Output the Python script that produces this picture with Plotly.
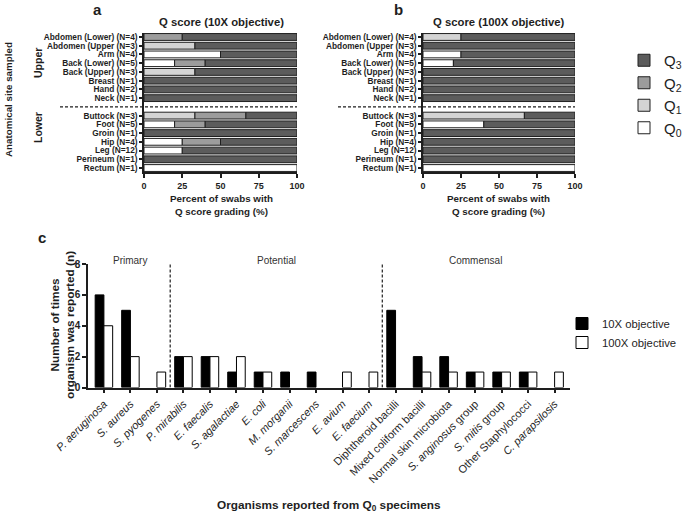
import plotly.graph_objects as go
from itertools import accumulate

# ---------------- data ----------------
upper_sites = ["Abdomen (Lower) (N=4)", "Abdomen (Upper (N=3)", "Arm (N=4)", "Back (Lower) (N=5)",
               "Back (Upper) (N=3)", "Breast (N=1)", "Hand (N=2)", "Neck (N=1)"]
lower_sites = ["Buttock (N=3)", "Foot (N=5)", "Groin (N=1)", "Hip (N=4)", "Leg (N=12)",
               "Perineum (N=1)", "Rectum (N=1)"]

# percent of swabs per Q score, 10X objective (rows: upper sites then lower sites)
q0_10x = [0, 0, 50, 20, 0, 0, 0, 0, 0, 20, 0, 25, 25, 0, 100]
q1_10x = [0, 33.3, 0, 0, 33.3, 0, 0, 0, 33.3, 0, 0, 0, 0, 0, 0]
q2_10x = [25, 0, 0, 20, 0, 0, 0, 0, 33.3, 20, 0, 25, 0, 0, 0]
q3_10x = [75, 66.7, 50, 60, 66.7, 100, 100, 100, 33.4, 60, 100, 50, 75, 100, 0]

# percent of swabs per Q score, 100X objective
q0_100x = [0, 0, 25, 20, 0, 0, 0, 0, 0, 40, 0, 0, 0, 0, 100]
q1_100x = [25, 0, 0, 0, 0, 0, 0, 0, 66.7, 0, 0, 0, 0, 0, 0]
q2_100x = [0, 0, 0, 0, 0, 0, 0, 0, 0, 0, 0, 0, 0, 0, 0]
q3_100x = [75, 100, 75, 80, 100, 100, 100, 100, 33.3, 60, 100, 100, 100, 100, 0]

q_names = ["Q<sub>0</sub>", "Q<sub>1</sub>", "Q<sub>2</sub>", "Q<sub>3</sub>"]
q_colors = ["#ffffff", "#d4d4d4", "#9c9c9c", "#5c5c5c"]
pct_ticks = [0, 25, 50, 75, 100]

organisms = ["<i>P. aeruginosa</i>", "<i>S. aureus</i>", "<i>S. pyogenes</i>",
             "<i>P. mirabilis</i>", "<i>E. faecalis</i>", "<i>S. agalactiae</i>", "<i>E. coli</i>",
             "<i>M. morganii</i>", "<i>S. marcescens</i>", "<i>E. avium</i>", "<i>E. faecium</i>",
             "Diphtheroid bacilli", "Mixed coliform bacilli", "Normal skin microbiota",
             "<i>S. anginosus</i> group", "<i>S. mitis</i> group", "Other Staphylococci",
             "<i>C. parapsilosis</i>"]
count_10x = [6, 5, 0, 2, 2, 1, 1, 1, 1, 0, 0, 5, 2, 2, 1, 1, 1, 0]
count_100x = [4, 2, 1, 2, 2, 2, 1, 0, 0, 1, 1, 0, 1, 1, 1, 1, 1, 1]
groups = ["Primary", "Potential", "Commensal"]
group_sizes = [3, 8, 7]
count_ticks = [0, 2, 4, 6, 8]

# ---------------- derived positions ----------------
sites = upper_sites + lower_sites
row_pos = list(range(len(upper_sites))) + [len(upper_sites) + 1 + i for i in range(len(lower_sites))]
sep_row = len(upper_sites)
org_x = list(range(len(organisms)))
bounds = list(accumulate(group_sizes))
sep_x = [b - 0.5 for b in bounds[:-1]]
group_centers = [b - s / 2 - 0.5 for b, s in zip(bounds, group_sizes)]

FONT = "Liberation Sans, Arial, sans-serif"
INK = "#1e1e1e"

W, H = 685, 515


def px(x):
    return x / W


def py(y):
    return 1 - y / H


def nz(vals):
    return [v if v > 0 else None for v in vals]


fig = go.Figure()


def stacked(series, xa, ya, legend):
    base = [0] * len(series[0])
    for k, vals in enumerate(series):
        fig.add_trace(go.Bar(
            y=row_pos, x=nz(vals), base=base,
            orientation="h", width=0.78,
            marker=dict(color=q_colors[k], line=dict(color="#202020", width=1)),
            name=q_names[k], xaxis=xa, yaxis=ya, showlegend=legend,
            legendrank=10 - k, hoverinfo="skip"))
        base = [b + v for b, v in zip(base, vals)]


stacked([q0_10x, q1_10x, q2_10x, q3_10x], "x", "y", True)
stacked([q0_100x, q1_100x, q2_100x, q3_100x], "x2", "y2", False)

fig.add_trace(go.Bar(x=org_x, y=nz(count_10x), offset=-0.33, width=0.33, name="10X objective",
                     marker=dict(color="#000000", line=dict(color="#000000", width=1)),
                     xaxis="x3", yaxis="y3", legend="legend2", hoverinfo="skip"))
fig.add_trace(go.Bar(x=org_x, y=nz(count_100x), offset=0, width=0.33, name="100X objective",
                     marker=dict(color="#ffffff", line=dict(color="#000000", width=1)),
                     xaxis="x3", yaxis="y3", legend="legend2", hoverinfo="skip"))

line_kw = dict(showline=True, linecolor=INK, linewidth=1.5, ticks="outside", tickcolor=INK,
               tickwidth=1.5, showgrid=False, zeroline=False)

ydom_ab = [py(172.4), py(32.6)]
for xa, ya, dom in [("xaxis", "yaxis", [px(144), px(297)]),
                    ("xaxis2", "yaxis2", [px(423), px(575)])]:
    anchor_x = "y" if xa == "xaxis" else "y2"
    anchor_y = "x" if ya == "yaxis" else "x2"
    fig.update_layout(**{
        xa: dict(domain=dom, anchor=anchor_x, range=[0, 100], tickvals=pct_ticks, ticklen=4,
                 tickfont=dict(family=FONT, size=9, color=INK, weight="bold"), **line_kw),
        ya: dict(domain=ydom_ab, anchor=anchor_y, range=[len(sites) + 0.5, -0.5],
                 tickvals=row_pos, ticktext=sites, ticklen=3,
                 tickfont=dict(family=FONT, size=8.3, color=INK, weight="bold"), **line_kw),
    })

fig.update_layout(
    xaxis3=dict(domain=[px(88), px(570)], anchor="y3", range=[-0.6, len(organisms) - 0.42],
                tickvals=org_x, ticktext=organisms, tickangle=-45, ticklen=4,
                tickfont=dict(family=FONT, size=11, color="#262626"), **line_kw),
    yaxis3=dict(domain=[py(387.5), py(264)], anchor="x3", range=[0, 8],
                tickvals=count_ticks, ticklen=4,
                tickfont=dict(family=FONT, size=10, color=INK, weight="bold"), **line_kw),
)

shapes = [
    dict(type="line", xref="paper", yref="y", x0=px(60), x1=px(297), y0=sep_row, y1=sep_row,
         line=dict(color=INK, width=1.3, dash="3px,2px")),
    dict(type="line", xref="paper", yref="y2", x0=px(338), x1=px(575), y0=sep_row,
         y1=sep_row, line=dict(color=INK, width=1.3, dash="3px,2px")),
]
for sx in sep_x:
    shapes.append(dict(type="line", xref="x3", yref="y3", x0=sx, x1=sx, y0=0, y1=8,
                       line=dict(color=INK, width=1.2, dash="3px,2px")))

ann = []


def A(text, x, y, size, bold=True, angle=0, xref="paper", color=INK):
    ann.append(dict(text=text, x=x if xref != "paper" else px(x), y=py(y), xref=xref,
                    yref="paper", showarrow=False, textangle=angle, xanchor="center",
                    yanchor="middle",
                    font=dict(family=FONT, size=size, color=color,
                              weight="bold" if bold else "normal")))


A("a", 98, 10, 15)
A("b", 398, 10, 15)
A("c", 42, 237, 15)
A("Q score (10X objective)", 221, 22, 11.3)
A("Q score (100X objective)", 499, 22, 11.3)
A("Percent of swabs with<br>Q score grading (%)", 221, 204.5, 9.8)
A("Percent of swabs with<br>Q score grading (%)", 499, 204.5, 9.8)
A("Upper", 38, 63, 10.5, angle=-90)
A("Lower", 38, 128, 10.5, angle=-90)
A("Anatomical site sampled", 8, 100, 9.8, angle=-90)
A("Number of times<br>organism was reported (n)", 62, 325, 11.8, angle=-90)
A("Organisms reported from Q<sub>0</sub> specimens", 329, 505, 11.8)
for g, c in zip(groups, group_centers):
    A(g, c, 260, 10, bold=False, xref="x3", color="#333333")

fig.update_layout(
    width=W, height=H, margin=dict(l=0, r=0, t=0, b=0, autoexpand=False),
    paper_bgcolor="white", plot_bgcolor="white", barmode="overlay",
    shapes=shapes, annotations=ann, showlegend=True,
    legend=dict(x=px(624), y=py(44), xanchor="left", yanchor="top",
                bgcolor="rgba(0,0,0,0)",
                font=dict(family=FONT, size=15, color=INK), traceorder="normal"),
    legend2=dict(x=px(562), y=py(309), xanchor="left", yanchor="top",
                 bgcolor="rgba(0,0,0,0)",
                 font=dict(family=FONT, size=11.3, color=INK)),
)

fig.write_html("out.html", config={"displayModeBar": False},
               post_script="document.body.style.margin='0';document.body.style.overflow='hidden';")
